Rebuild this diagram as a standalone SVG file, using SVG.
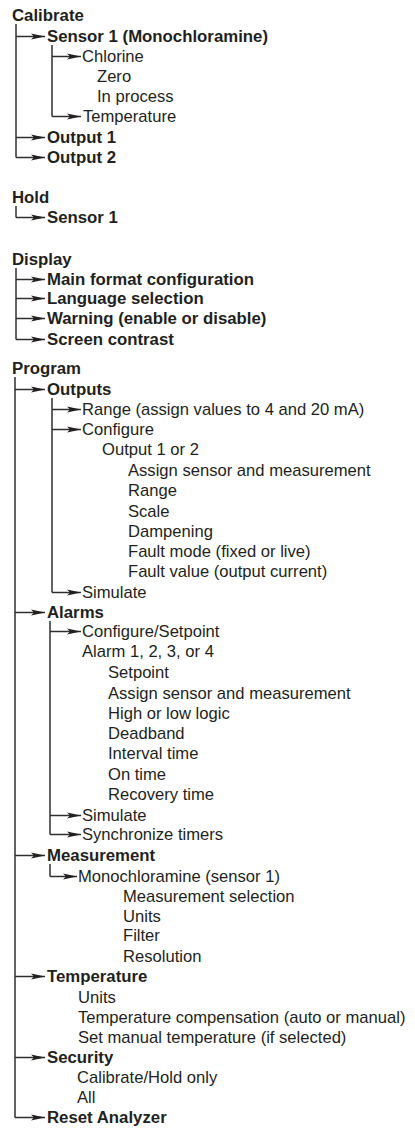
<svg xmlns="http://www.w3.org/2000/svg" width="415" height="1130" viewBox="0 0 415 1130">
<style>
text{font-family:"Liberation Sans",Arial,sans-serif;font-size:16.6px;fill:#231f20}
.b{font-weight:bold;font-size:16.8px}
.ln{fill:none;stroke:#2f2f2f;stroke-width:1.5}
.ar{marker-end:url(#ah)}
</style>
<defs>
<marker id="ah" markerUnits="userSpaceOnUse" markerWidth="15" markerHeight="8" refX="14" refY="4" orient="auto">
<path d="M0,1 L14,4 L0,7 L3,4 z" fill="#231f20"/>
</marker>
</defs>
<rect width="415" height="1130" fill="#fff"/>
<g id="connectors">
<path class="ln" d="M16,24 V157.5"/>
<path class="ln ar" d="M16,36.5 H45"/>
<path class="ln ar" d="M16,137.5 H45"/>
<path class="ln ar" d="M16,157.5 H45"/>
<path class="ln" d="M52,45 V116.5"/>
<path class="ln ar" d="M52,56.5 H81"/>
<path class="ln ar" d="M52,116.5 H81"/>
<path class="ln" d="M16,206 V217.5"/>
<path class="ln ar" d="M16,217.5 H45"/>
<path class="ln" d="M16,268 V339.5"/>
<path class="ln ar" d="M16,279.5 H45"/>
<path class="ln ar" d="M16,298.5 H45"/>
<path class="ln ar" d="M16,318.5 H45"/>
<path class="ln ar" d="M16,339.5 H45"/>
<path class="ln" d="M15,377 V1117.5"/>
<path class="ln ar" d="M15,389.5 H45"/>
<path class="ln ar" d="M15,612.5 H45"/>
<path class="ln ar" d="M15,855.5 H45"/>
<path class="ln ar" d="M15,976.5 H45"/>
<path class="ln ar" d="M15,1057.5 H45"/>
<path class="ln ar" d="M15,1117.5 H45"/>
<path class="ln" d="M52,398 V592.5"/>
<path class="ln ar" d="M52,409.5 H81"/>
<path class="ln ar" d="M52,429.5 H81"/>
<path class="ln ar" d="M52,592.5 H81"/>
<path class="ln" d="M50,621 V834.5"/>
<path class="ln ar" d="M50,631.5 H81"/>
<path class="ln ar" d="M50,815.5 H81"/>
<path class="ln ar" d="M50,834.5 H81"/>
<path class="ln" d="M50,864 V876.5"/>
<path class="ln ar" d="M50,876.5 H77"/>
</g>
<g id="calibrate"><text class="b" x="12" y="21">Calibrate</text></g>
<g id="cal-sensor1"><text class="b" x="47" y="42">Sensor 1 (Monochloramine)</text></g>
<g id="cal-chlorine"><text x="82" y="62">Chlorine</text></g>
<g id="cal-zero"><text x="97" y="82">Zero</text></g>
<g id="cal-inprocess"><text x="97" y="102">In process</text></g>
<g id="cal-temperature"><text x="83" y="122">Temperature</text></g>
<g id="cal-output1"><text class="b" x="47" y="143">Output 1</text></g>
<g id="cal-output2"><text class="b" x="47" y="163">Output 2</text></g>

<g id="hold"><text class="b" x="12" y="203">Hold</text></g>
<g id="hold-sensor1"><text class="b" x="47" y="223">Sensor 1</text></g>

<g id="display"><text class="b" x="12" y="265">Display</text></g>
<g id="disp-main"><text class="b" x="47" y="285">Main format configuration</text></g>
<g id="disp-lang"><text class="b" x="47" y="304">Language selection</text></g>
<g id="disp-warn"><text class="b" x="47" y="324">Warning (enable or disable)</text></g>
<g id="disp-contrast"><text class="b" x="47" y="345">Screen contrast</text></g>

<g id="program"><text class="b" x="12" y="374">Program</text></g>
<g id="prog-outputs"><text class="b" x="47" y="395">Outputs</text></g>
<g id="out-range"><text x="82" y="415">Range (assign values to 4 and 20 mA)</text></g>
<g id="out-configure"><text x="82" y="435">Configure</text></g>
<g id="out-output12"><text x="102" y="455">Output 1 or 2</text></g>
<g id="out-assign"><text x="128" y="476">Assign sensor and measurement</text></g>
<g id="out-range2"><text x="128" y="496">Range</text></g>
<g id="out-scale"><text x="128" y="517">Scale</text></g>
<g id="out-damp"><text x="128" y="537">Dampening</text></g>
<g id="out-faultmode"><text x="128" y="557">Fault mode (fixed or live)</text></g>
<g id="out-faultvalue"><text x="128" y="577">Fault value (output current)</text></g>
<g id="out-simulate"><text x="82" y="598">Simulate</text></g>

<g id="prog-alarms"><text class="b" x="47" y="618">Alarms</text></g>
<g id="al-config"><text x="82" y="637">Configure/Setpoint</text></g>
<g id="al-alarm"><text x="82" y="657">Alarm 1, 2, 3, or 4</text></g>
<g id="al-setpoint"><text x="108" y="678">Setpoint</text></g>
<g id="al-assign"><text x="108" y="699">Assign sensor and measurement</text></g>
<g id="al-logic"><text x="108" y="719">High or low logic</text></g>
<g id="al-deadband"><text x="108" y="739">Deadband</text></g>
<g id="al-interval"><text x="108" y="759">Interval time</text></g>
<g id="al-ontime"><text x="108" y="780">On time</text></g>
<g id="al-recovery"><text x="108" y="800">Recovery time</text></g>
<g id="al-simulate"><text x="82" y="821">Simulate</text></g>
<g id="al-sync"><text x="82" y="840">Synchronize timers</text></g>

<g id="prog-measurement"><text class="b" x="47" y="861">Measurement</text></g>
<g id="meas-mono"><text x="78" y="882">Monochloramine (sensor 1)</text></g>
<g id="meas-sel"><text x="123" y="902">Measurement selection</text></g>
<g id="meas-units"><text x="123" y="922">Units</text></g>
<g id="meas-filter"><text x="123" y="941">Filter</text></g>
<g id="meas-res"><text x="123" y="962">Resolution</text></g>

<g id="prog-temperature"><text class="b" x="47" y="982">Temperature</text></g>
<g id="temp-units"><text x="78" y="1003">Units</text></g>
<g id="temp-comp"><text x="78" y="1023">Temperature compensation (auto or manual)</text></g>
<g id="temp-set"><text x="78" y="1043">Set manual temperature (if selected)</text></g>

<g id="prog-security"><text class="b" x="47" y="1063">Security</text></g>
<g id="sec-calhold"><text x="77" y="1083">Calibrate/Hold only</text></g>
<g id="sec-all"><text x="77" y="1103">All</text></g>
<g id="prog-reset"><text class="b" x="47" y="1123">Reset Analyzer</text></g>
</svg>
